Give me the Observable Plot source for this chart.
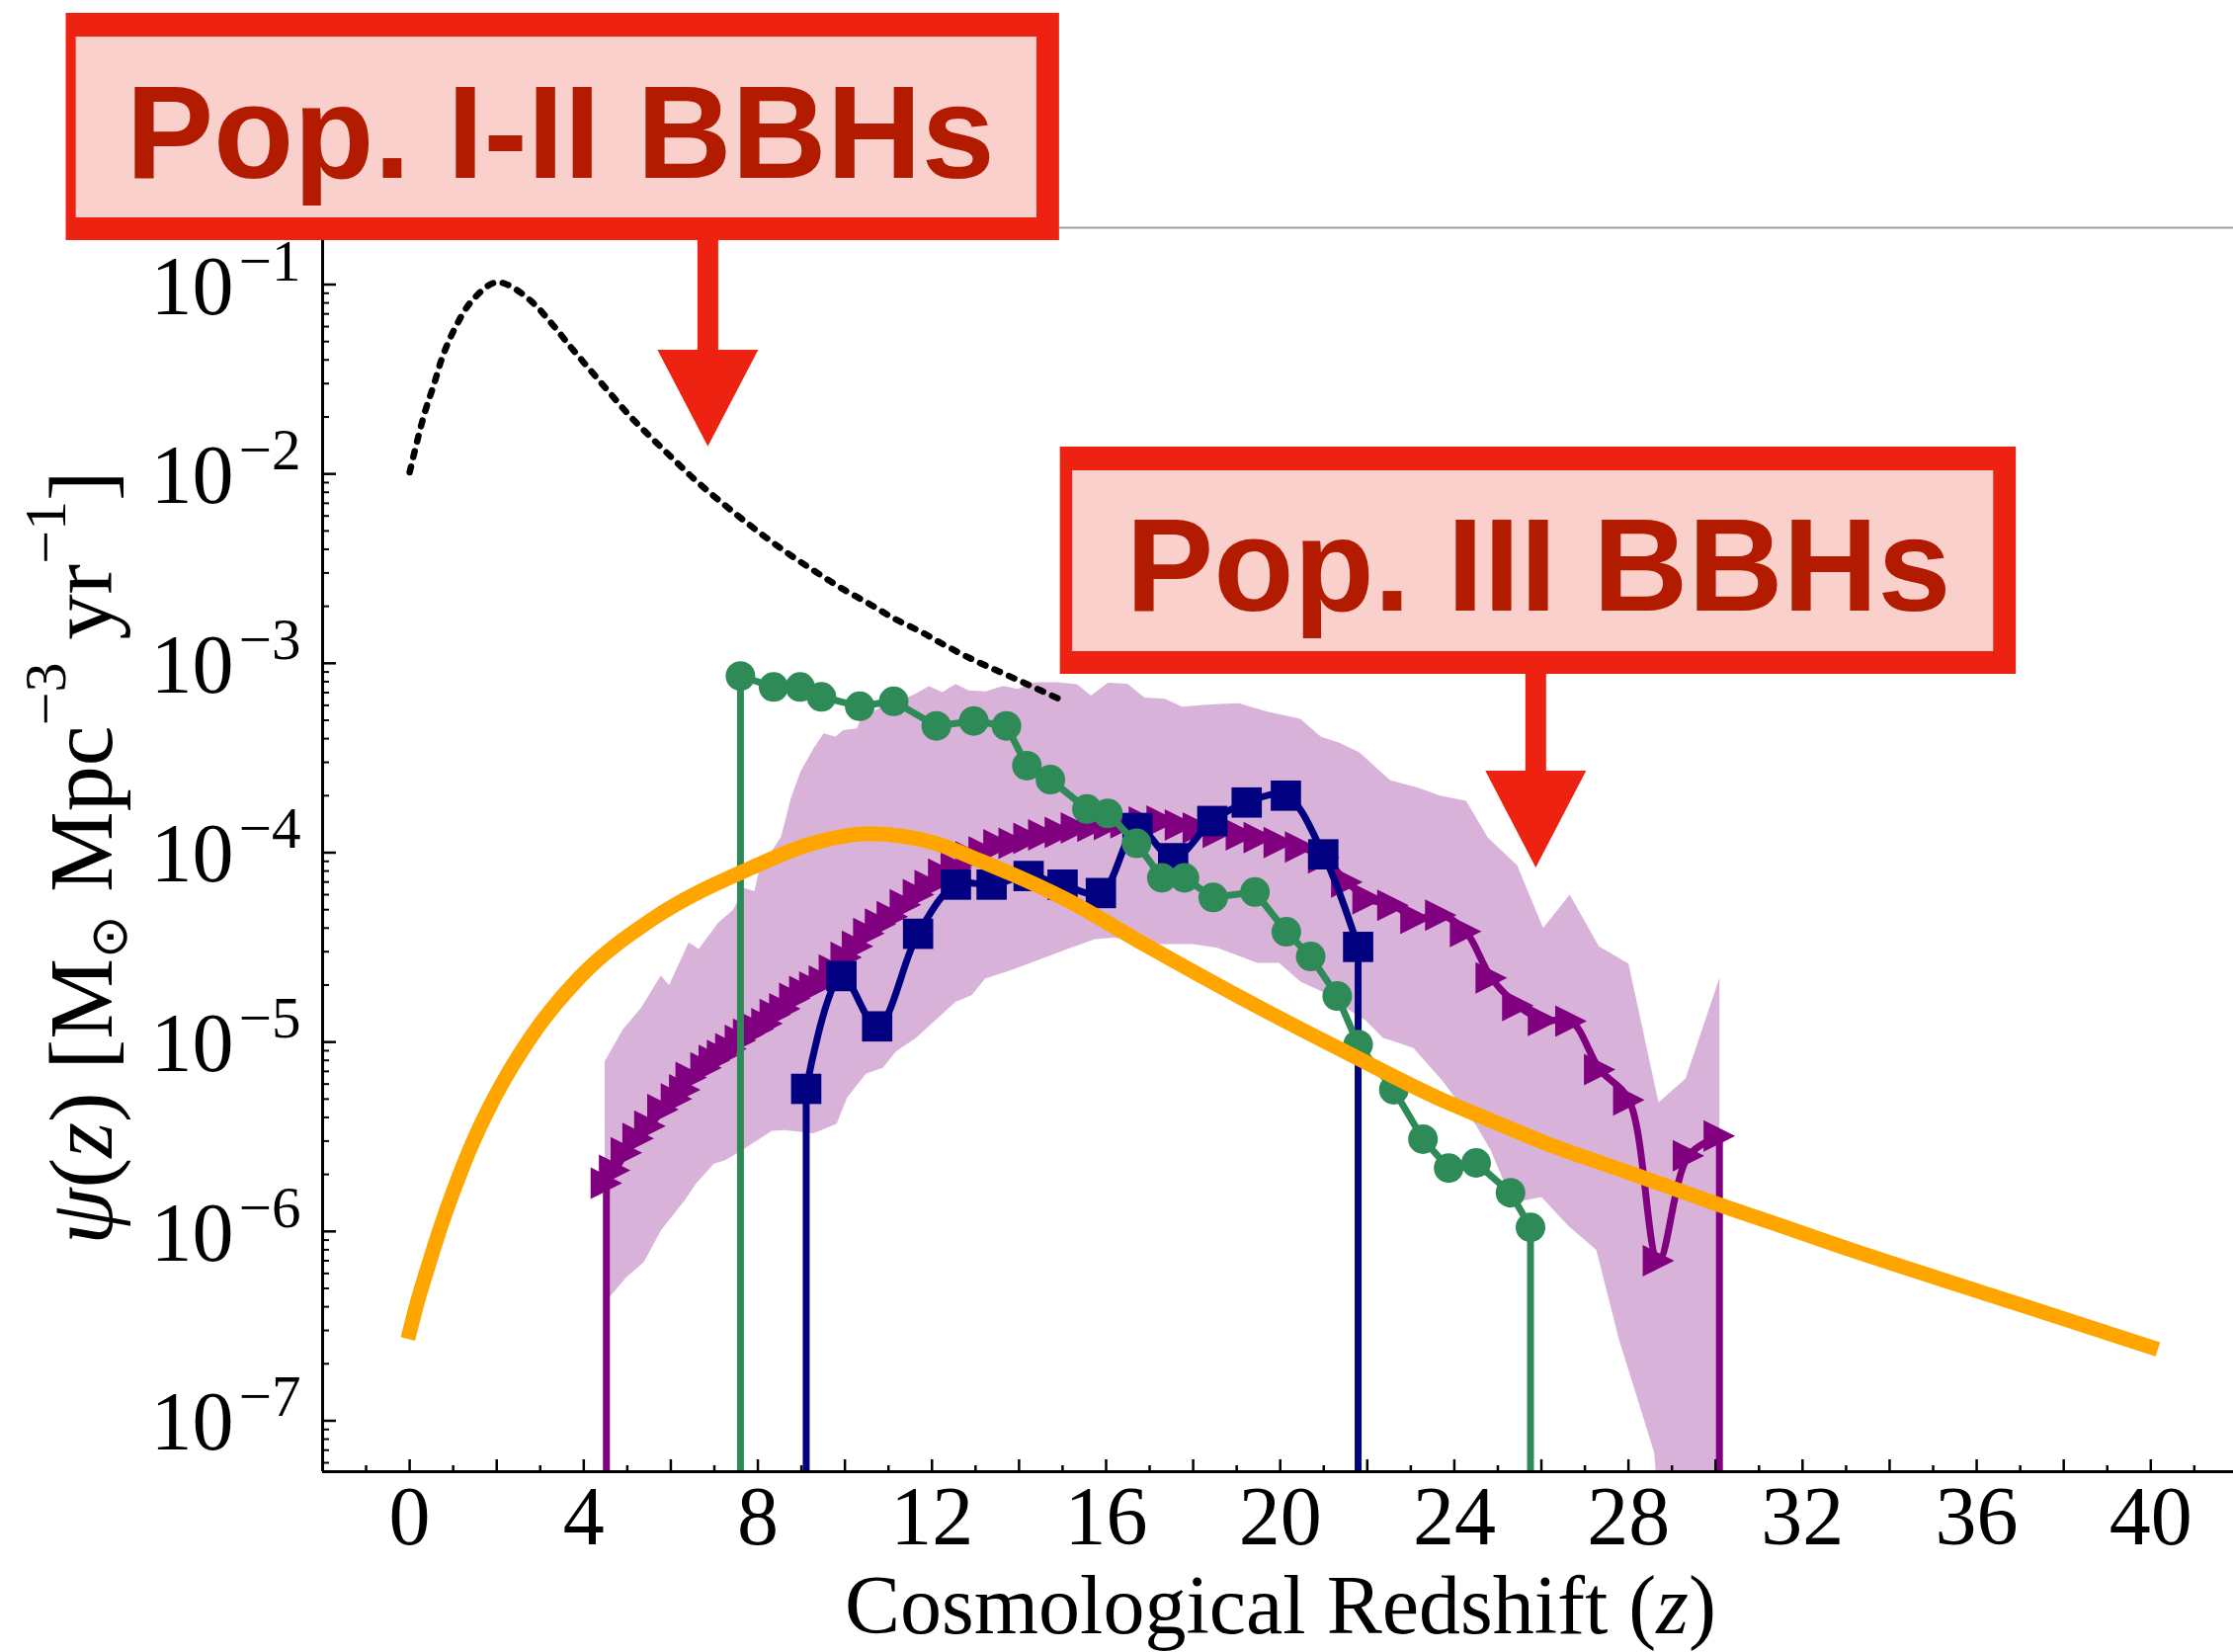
<!DOCTYPE html>
<html>
<head>
<meta charset="utf-8">
<script src="https://cdn.jsdelivr.net/npm/d3@7"></script>
<script src="https://cdn.jsdelivr.net/npm/@observablehq/plot@0.6"></script>
<style>
  html, body { margin: 0; padding: 0; background: #fff; }
  #chart { width: 2260px; height: 1672px; overflow: hidden; }
</style>
</head>
<body>
<div id="chart"></div>
<script>
// ---------------- data ----------------
const xTickLabels = [0, 4, 8, 12, 16, 20, 24, 28, 32, 36, 40];
const yTickExponents = [-1, -2, -3, -4, -5, -6, -7];

// Pop. I-II star formation (black dotted)
const popIZ = [0, 0.16, 0.35, 0.56, 0.76, 1.04, 1.41, 1.93, 2.24, 2.81, 3.29, 3.72, 4.17, 4.62, 5.08, 5.57, 6.07, 6.58, 7.11, 7.64, 8.20, 8.76, 9.33, 9.92, 10.53, 11.12, 11.76, 12.37, 13.00, 13.62, 14.25, 14.91];
const popIPsi = [0.0102, 0.0145, 0.0212, 0.0298, 0.0419, 0.0588, 0.0811, 0.102, 0.100, 0.081, 0.0612, 0.0462, 0.0349, 0.0264, 0.0200, 0.0154, 0.0119, 0.0092, 0.00724, 0.00577, 0.00459, 0.00371, 0.00304, 0.00249, 0.00208, 0.00173, 0.00146, 0.00122, 0.00103, 8.88e-4, 7.63e-4, 6.5e-4];

// orange model curve
const orangeZ = [0, 0.18, 0.43, 0.75, 1.09, 1.45, 1.89, 2.83, 3.91, 5.57, 7.84, 9.26, 10.57, 12.08, 13.14, 15.12, 16.93, 19.19, 21.46, 23.74, 24.9, 26.01, 28.0, 30.02, 31.46, 32.97, 36.46, 40];
const orangePsi = [2.95e-7, 4.25e-7, 6.6e-7, 1.12e-6, 1.84e-6, 2.95e-6, 4.8e-6, 1.1e-5, 2.2e-5, 4.45e-5, 8.3e-5, 1.12e-4, 1.26e-4, 1.12e-4, 9.0e-5, 5.6e-5, 3.23e-5, 1.67e-5, 8.96e-6, 4.92e-6, 3.8e-6, 2.98e-6, 2.05e-6, 1.40e-6, 1.08e-6, 8.2e-7, 4.5e-7, 2.45e-7];

// purple triangles
const purpleZ = [4.52, 4.71, 4.98, 5.25, 5.52, 5.82, 6.13, 6.32, 6.47, 6.81, 7.00, 7.19, 7.38, 7.60, 7.79, 8.01, 8.21, 8.40, 8.62, 8.85, 9.08, 9.31, 9.53, 9.76, 10.03, 10.29, 10.55, 10.82, 11.09, 11.39, 11.69, 11.96, 12.27, 12.56, 12.90, 13.20, 13.54, 13.89, 14.23, 14.57, 14.95, 15.32, 15.70, 16.08, 16.46, 16.88, 17.29, 17.71, 18.12, 18.58, 19.11, 19.52, 19.98, 20.47, 21.00, 21.53, 22.02, 22.59, 23.12, 23.69, 24.26, 24.85, 25.46, 26.05, 26.68, 27.34, 28.01, 28.69, 29.38, 30.09];
const purplePsi = [1.8e-6, 2.1e-6, 2.6e-6, 3.1e-6, 3.6e-6, 4.4e-6, 5.0e-6, 5.6e-6, 6.5e-6, 7.3e-6, 8.0e-6, 8.5e-6, 9.2e-6, 1.02e-5, 1.1e-5, 1.17e-5, 1.25e-5, 1.4e-5, 1.5e-5, 1.7e-5, 1.85e-5, 1.95e-5, 2.1e-5, 2.4e-5, 2.8e-5, 3.2e-5, 3.75e-5, 4.2e-5, 4.6e-5, 5.3e-5, 6.0e-5, 6.7e-5, 7.7e-5, 8.3e-5, 9.5e-5, 1.01e-4, 1.1e-4, 1.12e-4, 1.19e-4, 1.24e-4, 1.28e-4, 1.35e-4, 1.38e-4, 1.41e-4, 1.44e-4, 1.45e-4, 1.47e-4, 1.40e-4, 1.35e-4, 1.28e-4, 1.24e-4, 1.2e-4, 1.13e-4, 1.07e-4, 9.4e-5, 7.0e-5, 5.7e-5, 5.27e-5, 4.5e-5, 4.68e-5, 3.84e-5, 2.18e-5, 1.56e-5, 1.3e-5, 1.29e-5, 7.16e-6, 4.95e-6, 7.0e-7, 2.51e-6, 3.19e-6];

// navy squares
const navyZ = [9.11, 9.92, 10.74, 11.68, 12.55, 13.37, 14.22, 15.00, 15.88, 16.72, 17.54, 18.44, 19.23, 20.13, 20.99, 21.79];
const navyPsi = [5.66e-6, 2.23e-5, 1.21e-5, 3.73e-5, 6.78e-5, 6.78e-5, 7.53e-5, 6.78e-5, 6.12e-5, 1.35e-4, 9.35e-5, 1.47e-4, 1.84e-4, 2.0e-4, 9.8e-5, 3.18e-5];

// green circles
const greenZ = [7.60, 8.36, 8.97, 9.46, 10.34, 11.12, 12.10, 12.96, 13.71, 14.18, 14.72, 15.56, 16.04, 16.70, 17.28, 17.80, 18.46, 19.42, 20.14, 20.70, 21.31, 21.79, 22.61, 23.28, 23.87, 24.50, 25.29, 25.75];
const greenPsi = [8.57e-4, 7.5e-4, 7.5e-4, 6.65e-4, 5.93e-4, 6.3e-4, 4.67e-4, 4.96e-4, 4.67e-4, 2.88e-4, 2.43e-4, 1.70e-4, 1.61e-4, 1.12e-4, 7.36e-5, 7.36e-5, 5.8e-5, 6.2e-5, 3.82e-5, 2.83e-5, 1.75e-5, 9.7e-6, 5.6e-6, 3.07e-6, 2.16e-6, 2.30e-6, 1.60e-6, 1.05e-6];

// purple shaded band: upper and lower edges
const bandUpperZ = [4.48, 4.89, 5.31, 5.77, 5.96, 6.41, 6.64, 7.09, 7.43, 7.69, 7.92, 8.03, 8.53, 8.76, 8.98, 9.28, 9.51, 9.78, 9.96, 10.27, 10.38, 10.92, 11.56, 11.93, 12.24, 12.54, 12.84, 13.23, 13.63, 13.96, 14.36, 14.89, 15.33, 15.65, 16.04, 16.49, 16.88, 17.35, 17.75, 18.15, 18.60, 19.05, 19.71, 20.46, 20.93, 21.36, 21.81, 22.52, 22.87, 23.17, 23.67, 24.27, 24.77, 25.44, 26.04, 26.65, 27.32, 28.00, 28.69, 29.31, 30.09];
const bandUpperPsi = [7.9e-6, 1.16e-5, 1.51e-5, 2.25e-5, 2.0e-5, 3.36e-5, 3.1e-5, 4.27e-5, 5.0e-5, 6.5e-5, 6.25e-5, 8.1e-5, 1.21e-4, 1.95e-4, 2.69e-4, 3.56e-4, 4.27e-4, 4.1e-4, 4.44e-4, 4.53e-4, 5.2e-4, 6.0e-4, 6.8e-4, 7.57e-4, 7.05e-4, 7.78e-4, 7.19e-4, 7.1e-4, 7.6e-4, 7.33e-4, 7.94e-4, 7.94e-4, 7.75e-4, 6.75e-4, 7.9e-4, 7.8e-4, 6.6e-4, 6.5e-4, 5.9e-4, 6.0e-4, 6.1e-4, 6.15e-4, 5.55e-4, 5.1e-4, 4.1e-4, 3.8e-4, 3.4e-4, 2.42e-4, 2.3e-4, 2.2e-4, 2.0e-4, 1.88e-4, 1.2e-4, 8.6e-5, 4.0e-5, 6.0e-5, 3.2e-5, 2.6e-5, 4.8e-6, 6.4e-6, 2.18e-5];
const bandLowerZ = [4.48, 4.97, 5.38, 5.78, 6.32, 6.58, 6.99, 7.25, 7.65, 8.32, 8.61, 9.28, 9.81, 10.05, 10.48, 10.87, 11.17, 11.63, 12.54, 12.91, 13.22, 13.90, 14.51, 15.11, 15.34, 15.74, 16.17, 17.23, 17.99, 18.55, 19.47, 19.97, 20.47, 20.96, 21.18, 21.96, 22.36, 22.55, 23.06, 23.71, 24.51, 24.83, 25.34, 26.00, 26.62, 27.26, 27.78, 28.59, 28.89, 30.09];
const bandLowerPsi = [4.2e-7, 5.7e-7, 6.9e-7, 1.02e-6, 1.46e-6, 1.79e-6, 2.28e-6, 2.38e-6, 2.7e-6, 3.4e-6, 3.43e-6, 3.3e-6, 3.71e-6, 5.1e-6, 6.8e-6, 7.3e-6, 8.9e-6, 1.05e-5, 1.63e-5, 1.77e-5, 2.16e-5, 2.44e-5, 2.75e-5, 3.1e-5, 3.23e-5, 3.5e-5, 3.56e-5, 3.29e-5, 3.29e-5, 3.15e-5, 2.62e-5, 2.62e-5, 2.08e-5, 1.85e-5, 1.69e-5, 1.3e-5, 1.05e-5, 1.02e-5, 9.3e-6, 6.3e-6, 3.6e-6, 2.7e-6, 1.42e-6, 1.52e-6, 1.07e-6, 8.0e-7, 2.7e-7, 6.8e-8, 1e-8, 1e-8];

// call-out annotations (anchored in data space)
const calloutLabels = ["Pop. I-II BBHs", "Pop. III BBHs"];
const calloutTextZ = [3.46, 25.93];
const calloutTextPsi = [0.3682, 1.887e-3];
const calloutBoxZ = [[-7.89, 14.93], [14.95, 36.91]];
const calloutBoxPsi = [[0.1707, 2.705], [8.744e-4, 0.01386]];
const calloutInnerZ = [[-7.66, 14.41], [15.23, 36.39]];
const calloutInnerPsi = [[0.2250, 2.027], [1.1527e-3, 0.010387]];
const calloutArrowZ = [6.85, 25.87];
const calloutShaftPsi = [[0.1769, 0.03942], [8.96e-4, 2.389e-4]];
const calloutHeadPsi = [0.02515, 1.504e-4];

// ---------------- build tables ----------------
const rows = (zs, ps) => zs.map((z, i) => ({z, psi: ps[i]}));
const popI = rows(popIZ, popIPsi);
const orange = rows(orangeZ, orangePsi);
const purple = rows(purpleZ, purplePsi);
const navy = rows(navyZ, navyPsi);
const green = rows(greenZ, greenPsi);
const bandPoly = [...rows(bandUpperZ, bandUpperPsi), ...rows(bandLowerZ, bandLowerPsi).reverse()];
const callouts = calloutLabels.map((label, i) => ({
  label,
  tz: calloutTextZ[i], tpsi: calloutTextPsi[i],
  bx1: calloutBoxZ[i][0], bx2: calloutBoxZ[i][1], by1: calloutBoxPsi[i][0], by2: calloutBoxPsi[i][1],
  ix1: calloutInnerZ[i][0], ix2: calloutInnerZ[i][1], iy1: calloutInnerPsi[i][0], iy2: calloutInnerPsi[i][1],
  az: calloutArrowZ[i], s1: calloutShaftPsi[i][0], s2: calloutShaftPsi[i][1], hpsi: calloutHeadPsi[i]
}));

// ---------------- scales / layout ----------------
const W = 2260, H = 1672;
const mL = 326, mR = 0, mT = 230, mB = 183;
const frameW = W - mL - mR, frameH = H - mT - mB;
const xDomain = [-2, 41.9];
const yDomain = [5.386e-8, 0.19953];

const xMajor = d3.range(-2, 42, 2);
const xMinor = d3.range(-1, 42, 2);
const yMajor = yTickExponents.map(e => 10 ** e);
const yMinor = [];
for (let e = -8; e <= -1; e++) for (let k = 2; k <= 9; k++) {
  const v = k * 10 ** e;
  if (v >= yDomain[0] && v <= yDomain[1]) yMinor.push(v);
}

const triRight = {draw(ctx, size) { const r = Math.sqrt(size / Math.PI); ctx.moveTo(r, 0); ctx.lineTo(-r, -r); ctx.lineTo(-r, r); ctx.closePath(); }};
const triDown = {draw(ctx, size) { const r = Math.sqrt(size / Math.PI); ctx.moveTo(-r, -0.96 * r); ctx.lineTo(r, -0.96 * r); ctx.lineTo(0, 0.96 * r); ctx.closePath(); }};

const serif = "Liberation Serif, Times New Roman, serif";
const sans = "Liberation Sans, Arial, Helvetica, sans-serif";
const RED = "#ee2211", PINK = "#f9d0cb", TEXTRED = "#b31b00";
const LW = 7;

const ends = (arr) => [arr[0], arr[arr.length - 1]];

const chart = Plot.plot({
  width: W, height: H,
  marginLeft: mL, marginRight: mR, marginTop: mT, marginBottom: mB,
  style: {fontFamily: serif, background: "white", overflow: "visible"},
  x: {domain: xDomain, axis: null},
  y: {type: "log", domain: yDomain, axis: null},
  marks: [
    // shaded band
    Plot.line(bandPoly, {x: "z", y: "psi", fill: "purple", fillOpacity: 0.3, stroke: "none", clip: true}),
    // Pop I-II dotted
    Plot.line(popI, {x: "z", y: "psi", stroke: "black", strokeWidth: 6.5, strokeDasharray: "6,10", curve: "catmull-rom", clip: true}),
    // purple series
    Plot.ruleX(ends(purple), {x: "z", y1: yDomain[0], y2: "psi", stroke: "purple", strokeWidth: LW}),
    Plot.line(purple, {x: "z", y: "psi", stroke: "purple", strokeWidth: LW, curve: "catmull-rom"}),
    Plot.dot(purple, {x: "z", y: "psi", symbol: triRight, r: 16, fill: "purple"}),
    // navy series
    Plot.ruleX(ends(navy), {x: "z", y1: yDomain[0], y2: "psi", stroke: "navy", strokeWidth: LW}),
    Plot.line(navy, {x: "z", y: "psi", stroke: "navy", strokeWidth: LW, curve: "catmull-rom"}),
    Plot.dot(navy, {x: "z", y: "psi", symbol: "square", r: 17.3, fill: "navy"}),
    // green series
    Plot.ruleX(ends(green), {x: "z", y1: yDomain[0], y2: "psi", stroke: "seagreen", strokeWidth: LW}),
    Plot.line(green, {x: "z", y: "psi", stroke: "seagreen", strokeWidth: LW}),
    Plot.dot(green, {x: "z", y: "psi", r: 15, fill: "seagreen"}),
    // orange model
    Plot.line(orange, {x: "z", y: "psi", stroke: "orange", strokeWidth: 15, curve: "monotone-x", strokeLinecap: "square"}),
    // spines
    Plot.ruleY([yDomain[1]], {stroke: "#a0a0a0", strokeWidth: 2}),
    Plot.ruleX([xDomain[0]], {stroke: "black", strokeWidth: 3}),
    Plot.ruleY([yDomain[0]], {stroke: "black", strokeWidth: 3}),
    // inward ticks
    Plot.ruleX(xMajor, {x: d => d, insetTop: frameH - 12, stroke: "black", strokeWidth: 2.5}),
    Plot.ruleX(xMinor, {x: d => d, insetTop: frameH - 6, stroke: "black", strokeWidth: 2.5}),
    Plot.ruleY(yMajor, {y: d => d, insetRight: frameW - 14, stroke: "black", strokeWidth: 2.5}),
    Plot.ruleY(yMinor, {y: d => d, insetRight: frameW - 7, stroke: "black", strokeWidth: 2}),
    // tick labels
    Plot.text(xTickLabels, {x: d => d, text: d => String(d), frameAnchor: "bottom", lineAnchor: "bottom", dy: 73, fontSize: 84, fill: "black"}),
    Plot.text(yTickExponents, {y: d => 10 ** d, text: () => "10", frameAnchor: "left", textAnchor: "end", lineAnchor: "bottom", dx: -90, dy: 29.5, fontSize: 84, fill: "black"}),
    Plot.text(yTickExponents, {y: d => 10 ** d, text: d => "\u2212" + (-d), frameAnchor: "left", textAnchor: "end", lineAnchor: "bottom", dx: -22, dy: -4.5, fontSize: 59, fill: "black"}),
    // call-outs
    Plot.ruleX(callouts, {x: "az", y1: "s1", y2: "s2", stroke: RED, strokeWidth: 21}),
    Plot.rect(callouts, {x1: "bx1", x2: "bx2", y1: "by1", y2: "by2", fill: RED}),
    Plot.rect(callouts, {x1: "ix1", x2: "ix2", y1: "iy1", y2: "iy2", fill: PINK}),
    Plot.text(callouts, {x: "tz", y: "tpsi", text: "label", textAnchor: "middle", lineAnchor: "bottom", fontFamily: sans, fontWeight: "bold", fontSize: 133, fill: TEXTRED}),
    Plot.dot(callouts, {x: "az", y: "hpsi", symbol: triDown, r: 51, fill: RED})
  ]
});

document.getElementById("chart").appendChild(chart);

// axis titles (text with italics, sub/superscripts)
const svg = d3.select(chart);
const xl = svg.append("text")
  .attr("x", 1296).attr("y", 1653)
  .attr("text-anchor", "middle")
  .attr("font-family", serif).attr("font-size", 84).attr("fill", "black");
xl.append("tspan").text("Cosmological Redshift (");
xl.append("tspan").attr("font-style", "italic").text("z");
xl.append("tspan").text(")");

const yl = svg.append("text")
  .attr("transform", "translate(113,868) rotate(-90)")
  .attr("text-anchor", "middle")
  .attr("font-family", serif).attr("font-size", 92).attr("fill", "black");
yl.append("tspan").attr("font-style", "italic").text("\u03C8");
yl.append("tspan").text("(");
yl.append("tspan").attr("font-style", "italic").text("z");
yl.append("tspan").text(") [M");
yl.append("tspan").attr("font-size", 52).attr("dy", 15).text("\u2299");
yl.append("tspan").attr("dy", -15).text(" Mpc");
yl.append("tspan").attr("font-size", 60).attr("dy", -47).text("\u22123");
yl.append("tspan").attr("dy", 47).text(" yr");
yl.append("tspan").attr("font-size", 60).attr("dy", -47).text("\u22121");
yl.append("tspan").attr("dy", 47).text("]");
</script>
</body>
</html>
